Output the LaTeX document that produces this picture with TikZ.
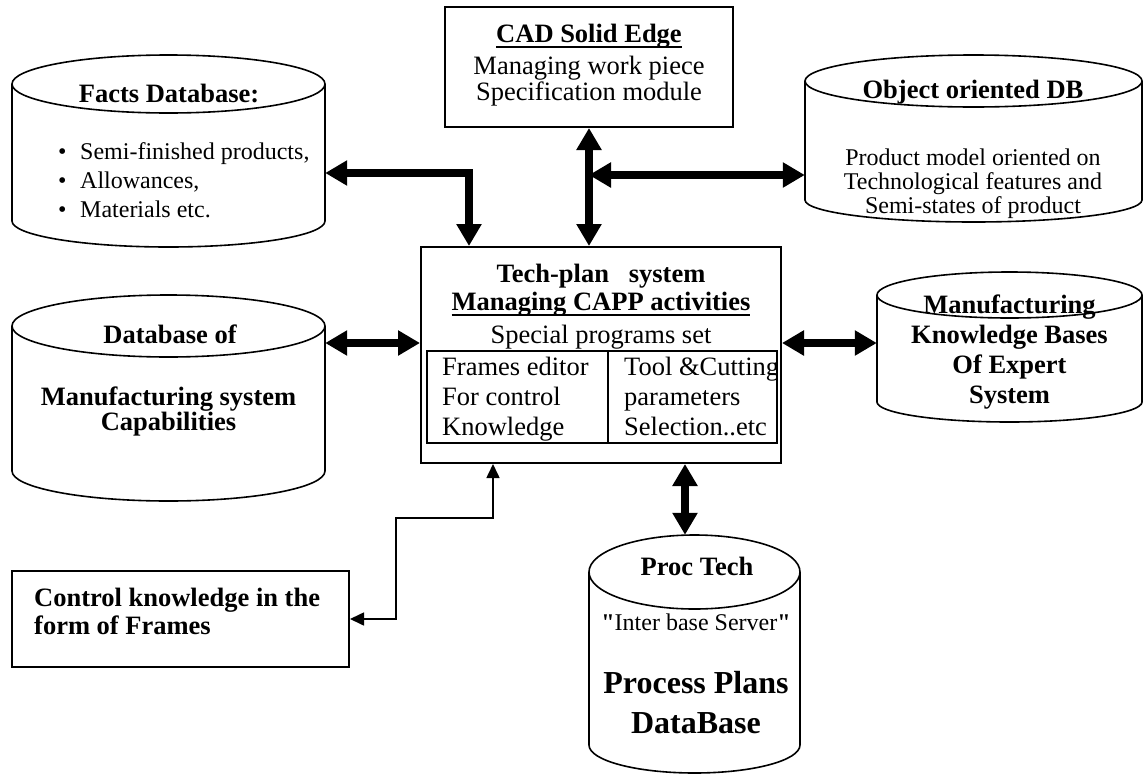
\documentclass[tikz,border=0pt]{standalone}
\usepackage{fontspec}
\setmainfont{Liberation Serif}
\newfontfamily\qfont{Liberation Serif}[Ligatures=TeXOff]
\usetikzlibrary{arrows.meta}
\newcommand\myul[1]{\setbox0\hbox{#1}\rlap{\rule[-5.5pt]{\wd0}{2pt}}\box0}
\newcommand\dbcyl[7]{%
 \pgfmathsetmacro\cylrx{(#3-#2)/2}%
 \pgfmathsetmacro\cylw{#3-#2}%
 \pgfmathsetmacro\cylh{#5-#4}%
 \node[inner sep=0pt, minimum width=\cylw pt, minimum height=\cylh pt] (#1) at ({(#2+#3)/2},{(#4+#5)/2}) {};
 \draw[cyl] (#2,#4+#6) -- (#2,#5-#7) arc[start angle=180,end angle=360,x radius=\cylrx pt,y radius=#7pt] -- (#3,#4+#6) arc[start angle=0,end angle=180,x radius=\cylrx pt,y radius=#6pt] -- cycle;
 \draw[cyl] (#2,#4+#6) arc[start angle=180,end angle=360,x radius=\cylrx pt,y radius=#6pt];
}
\tikzset{
 cyl/.style={line width=1.6pt},
 boxb/.style={draw, line width=2pt, inner sep=0pt},
 inbox/.style={draw, line width=1.2pt, inner sep=0pt},
 big/.style={line width=7.5pt, line join=miter, {Triangle[length=22pt,width=24pt]}-{Triangle[length=22pt,width=24pt]}},
 thinarr/.style={line width=1.6pt, {Triangle[length=14pt,width=13pt]}-{Triangle[length=14pt,width=13pt]}},
 tb/.style={inner sep=0pt, anchor=base, font=\fontsize{26.5}{30}\selectfont\bfseries},
 tr/.style={inner sep=0pt, anchor=base, font=\fontsize{26.5}{30}\selectfont},
 ts/.style={inner sep=0pt, anchor=base, font=\fontsize{24}{28}\selectfont},
 tl/.style={inner sep=0pt, anchor=base, font=\fontsize{32}{36}\selectfont\bfseries},
}
\begin{document}
\begin{tikzpicture}[x=1pt,y=-1pt]
\useasboundingbox (0,0) rectangle (1144,774);

% cylinders
\dbcyl{facts}{12}{325}{55}{247}{29}{26}
\dbcyl{odb}{805}{1142}{55}{222}{26}{22}
\dbcyl{dbof}{12}{325}{295}{501}{31}{30}
\dbcyl{mkb}{877}{1142}{272}{422}{23}{20}
\dbcyl{proc}{589}{800}{535}{773}{37}{28}

% boxes
\node[boxb, minimum width=288pt, minimum height=120pt] (cad) at (589,67) {};
\node[boxb, minimum width=360pt, minimum height=216pt] (tech) at (601,355) {};
\node[inbox, minimum width=181pt, minimum height=92pt] (inl) at (517.5,397) {};
\node[inbox, minimum width=169pt, minimum height=92pt] (inr) at (692.5,397) {};
\node[boxb, minimum width=337pt, minimum height=96pt] (ctrl) at (180.5,619) {};

% Facts text
\node[tb] (factsT) at (169,102) {Facts Database:};
\node[ts, anchor=base west] (f1) at (58,159) {\textbullet\hspace{13.6pt}Semi-finished products,};
\node[ts, anchor=base west] (f2) at (58,188) {\textbullet\hspace{13.6pt}Allowances,};
\node[ts, anchor=base west] (f3) at (58,217) {\textbullet\hspace{13.6pt}Materials etc.};

% CAD text
\node[tb] (cad1) at (589,42) {\myul{CAD Solid Edge}};
\node[tr] (cad2) at (589,74) {Managing work piece};
\node[tr] (cad3) at (589,100) {Specification module};

% Object DB text
\node[tb] (odbT) at (973,98) {Object oriented DB};
\node[ts] (o1) at (973,165) {Product model oriented on};
\node[ts] (o2) at (973,189) {Technological features and};
\node[ts] (o3) at (973,213) {Semi-states of product};

% Database of
\node[tb] (d1) at (170,343) {Database of};
\node[tb] (d2) at (168.5,405) {Manufacturing system};
\node[tb] (d3) at (168.5,430) {Capabilities};

% MKB
\node[tb] (m1) at (1009.5,313) {Manufacturing};
\node[tb] (m2) at (1009.5,343) {Knowledge Bases};
\node[tb] (m3) at (1009.5,373) {Of Expert};
\node[tb] (m4) at (1009.5,403) {System};

% Tech text
\node[tb] (t1) at (601,282) {Tech-plan\hspace{0.75em}system};
\node[tb] (t2) at (601,310) {\myul{Managing CAPP activities}};
\node[tr] (t3) at (601,343) {Special programs set};
\node[tr, anchor=base west] (l1) at (442,375) {Frames editor};
\node[tr, anchor=base west] (l2) at (442,405) {For control};
\node[tr, anchor=base west] (l3) at (442,435) {Knowledge};
\begin{scope}
\clip (608,351) rectangle (777,443);
\node[tr, anchor=base west] (r1) at (624,375) {Tool \&Cutting};
\node[tr, anchor=base west] (r2) at (624,405) {parameters};
\node[tr, anchor=base west] (r3) at (624,435) {Selection..etc};
\end{scope}

% Control
\node[tb, anchor=base west] (c1) at (34,606) {Control knowledge in the};
\node[tb, anchor=base west] (c2) at (34,634) {form of Frames};

% Proc Tech
\node[tb] (p1) at (697,575) {Proc Tech};
\node[ts] (p2) at (696,630) {{\qfont\bfseries\char"22}Inter base Server{\qfont\bfseries\char"22}};
\node[tl] (p3) at (696,693) {Process Plans};
\node[tl] (p4) at (696,733) {DataBase};

% connectors
\draw[big] (facts.east |- 0,173) -| ([xshift=49pt]tech.north west);
\draw[big] (cad.south) -- (cad.south |- tech.north);
\draw[big] (cad.south |- 0,175) -- (odb.west |- 0,175);
\draw[big] (dbof.east |- 0,343) -- (tech.west |- 0,343);
\draw[big] (tech.east |- 0,343) -- (mkb.west |- 0,343);
\draw[big] (tech.south -| 685,0) -- (proc.north -| 685,0);
\draw[thinarr] (ctrl.east |- 0,619) -| (396,518) -| ([xshift=73pt]tech.south west);
\end{tikzpicture}
\end{document}
